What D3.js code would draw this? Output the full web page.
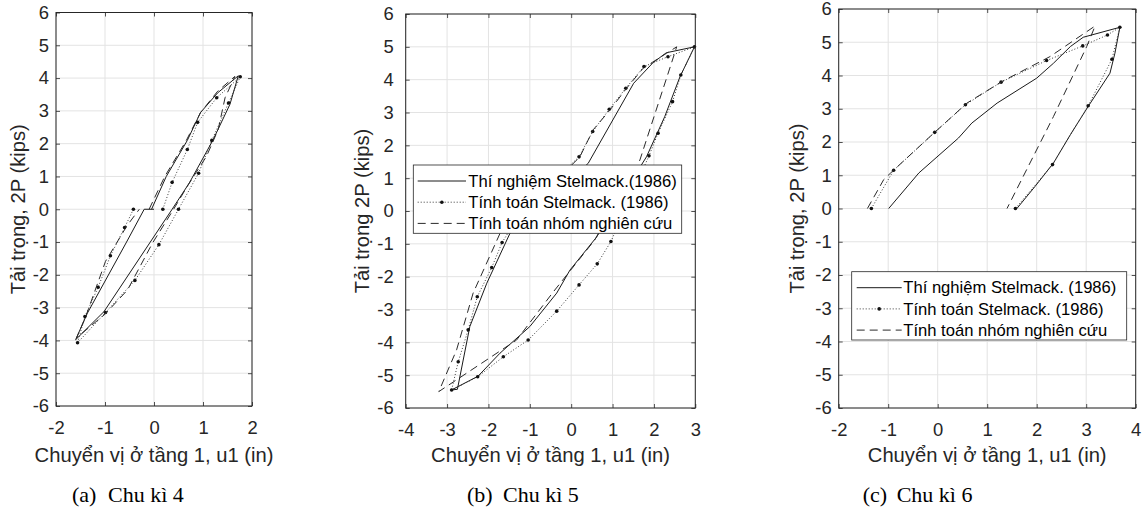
<!DOCTYPE html>
<html>
<head>
<meta charset="utf-8">
<script src="https://cdn.jsdelivr.net/npm/d3@7"></script>
<style>
  body { margin: 0; background: #fff; }
  svg { display: block; }
</style>
</head>
<body>
<div id="chart"></div>
<script>
let w = 1145;
let h = 511;

// ---- data ----
let yTicks = [-6, -5, -4, -3, -2, -1, 0, 1, 2, 3, 4, 5, 6];
let xTicksA = [-2, -1, 0, 1, 2];
let xTicksB = [-4, -3, -2, -1, 0, 1, 2, 3];
let xTicksC = [-2, -1, 0, 1, 2, 3, 4];

let legendB = ["Thí nghiệm Stelmack.(1986)", "Tính toán Stelmack. (1986)", "Tính toán nhóm nghiên cứu"];
let legendC = ["Thí nghiệm Stelmack. (1986)", "Tính toán Stelmack. (1986)", "Tính toán nhóm nghiên cứu"];

let captions = [["(a)", "Chu kì 4"], ["(b)", "Chu kì 5"], ["(c)", "Chu kì 6"]];

// cycle 4
let testA = [[-0.05, 0], [0.25, 1.0], [0.68, 2.1], [0.95, 2.95], [1.3, 3.55], [1.72, 4.07], [1.55, 3.2], [1.2, 2.1],
  [0.72, 0.8], [0.37, 0], [-1.02, -3.12], [-1.6, -3.98], [-1.36, -3.17], [-0.56, -1.0], [-0.2, 0], [0, 0]];
let stelA = [[0.18, 0], [0.37, 0.82], [0.68, 1.82], [0.89, 2.65], [1.28, 3.4], [1.76, 4.04], [1.52, 3.24], [1.18, 2.1],
  [0.91, 1.1], [0.5, 0], [0.1, -1.08], [-0.39, -2.17], [-0.99, -3.15], [-1.56, -4.07], [-1.41, -3.27], [-1.14, -2.38],
  [-0.89, -1.42], [-0.6, -0.56], [-0.42, 0]];
let groupA = [[-0.1, 0], [0.22, 1.0], [0.66, 2.1], [0.95, 2.95], [1.3, 3.6], [1.65, 4.05], [1.45, 3.4], [1.31, 2.43],
  [1.07, 1.61], [0.7, 0.75], [0.4, 0], [-0.03, -1.03], [-0.54, -2.46], [-1.0, -3.2], [-1.58, -3.92], [-1.4, -3.3],
  [-0.99, -1.59], [-0.55, -0.5], [-0.3, 0]];

// cycle 5
let testB = [[-0.85, 0], [0.41, 1.45], [1.51, 3.89], [1.98, 4.52], [2.3, 4.82], [2.98, 5.0], [2.63, 4.09], [2.26, 2.87],
  [1.82, 1.65], [0.61, -0.8], [-0.03, -1.8], [-0.35, -2.5], [-1.0, -3.52], [-1.72, -4.33], [-2.25, -5.03], [-2.89, -5.45],
  [-2.75, -5.43], [-2.45, -3.52], [-2.04, -2.2], [-1.48, -0.68], [-0.85, 0]];
let stelB = [[-1.2, 0], [0.19, 1.65], [0.52, 2.42], [0.92, 3.1], [1.32, 3.74], [1.76, 4.4], [2.34, 4.7], [2.98, 5.0],
  [2.65, 4.14], [2.45, 3.33], [2.1, 2.37], [1.88, 1.68], [0.96, -0.93], [0.63, -1.61], [0.19, -2.25], [-0.35, -3.05],
  [-1.04, -3.93], [-1.64, -4.44], [-2.26, -5.05], [-2.89, -5.45], [-2.73, -4.59], [-2.49, -3.62], [-2.27, -2.61],
  [-1.92, -1.72], [-1.67, -0.96], [-1.2, 0]];
let groupB = [[-1.1, 0], [0.21, 1.65], [0.53, 2.47], [0.94, 3.08], [1.34, 3.74], [1.74, 4.35], [2.3, 4.8], [2.55, 5.0],
  [2.5, 4.8], [1.66, 1.55], [0.57, -0.88], [-0.43, -2.46], [-1.32, -3.93], [-2.78, -5.15], [-3.2, -5.5], [-2.77, -4.23],
  [-2.37, -2.5], [-1.72, -0.68], [-1.1, 0]];

// cycle 6
let testC = [[-0.99, 0], [-0.38, 1.07], [0.42, 2.12], [0.69, 2.57], [1.2, 3.17], [2.0, 3.92], [2.34, 4.37], [2.68, 4.87],
  [2.94, 5.15], [3.68, 5.45], [3.58, 4.67], [3.48, 4.07], [3.04, 3.07], [2.68, 2.22], [2.34, 1.37], [1.97, 0.67], [1.6, 0]];
let stelC = [[-1.34, 0], [-0.89, 1.15], [-0.06, 2.29], [0.56, 3.12], [1.28, 3.8], [2.2, 4.45], [2.93, 4.89], [3.43, 5.22],
  [3.68, 5.45], [3.52, 4.49], [3.04, 3.09], [2.32, 1.32], [1.57, 0]];
let groupC = [[-1.42, 0], [-1.09, 0.87], [-0.95, 1.07], [-0.15, 2.17], [0.59, 3.17], [1.3, 3.82], [2.27, 4.57],
  [3.18, 5.49], [3.01, 4.87], [2.34, 2.77], [1.4, 0]];

// ---- layout ----
let axisColor = "#262626";
let gridColor = "#e3e3e3";
let sansFont = "'Liberation Sans', Arial, Helvetica, sans-serif";
let serifFont = "'Liberation Serif', 'Times New Roman', serif";

let panels = [
  { left: 56, right: 252, top: 12.5, bottom: 406, xTicks: xTicksA, ylabel: "Tải trọng, 2P (kips)", ylabelX: 18, yPad: 7,
    test: testA, stel: stelA, group: groupA, caption: captions[0], capX: 72, capX2: 108, legend: null },
  { left: 405.7, right: 695.3, top: 14, bottom: 408, xTicks: xTicksB, ylabel: "Tải trọng 2P (kips)", ylabelX: 362, yPad: 12,
    test: testB, stel: stelB, group: groupB, caption: captions[1], capX: 467, capX2: 503,
    legend: { names: legendB, x: 413.3, y: 165, w: 268.4, h: 68.3, lineX: 4.4, lineW: 48.3, textX: 55 } },
  { left: 838.7, right: 1135.7, top: 9, bottom: 408, xTicks: xTicksC, ylabel: "Tải trọng, 2P (kips)", ylabelX: 797, yPad: 7,
    test: testC, stel: stelC, group: groupC, caption: captions[2], capX: 862.7, capX2: 896.7,
    legend: { names: legendC, x: 851.7, y: 271.7, w: 275, h: 68.3, lineX: 5, lineW: 45, textX: 51.6 } }
];

let viz = d3.select("#chart")
  .append("svg")
  .attr("width", w)
  .attr("height", h)
  .style("background-color", "white");

// MATLAB style labels: plain integers with a hyphen minus
let tickText = d => String(d);

function styleAxis(g) {
  g.select(".domain").remove();
  g.selectAll(".tick line").attr("stroke", axisColor).attr("stroke-width", 0.8);
  g.selectAll(".tick text")
    .attr("fill", axisColor)
    .style("font-family", sansFont)
    .style("font-size", "18.4px");
}

panels.forEach(p => {
  let xScale = d3.scaleLinear().domain(d3.extent(p.xTicks)).range([p.left, p.right]);
  let yScale = d3.scaleLinear().domain(d3.extent(yTicks)).range([p.bottom, p.top]);

  let g = viz.append("g");

  // grid
  g.selectAll(".vgrid").data(p.xTicks).enter()
    .append("line")
    .attr("x1", d => xScale(d)).attr("x2", d => xScale(d))
    .attr("y1", p.top).attr("y2", p.bottom)
    .attr("stroke", gridColor).attr("stroke-width", 1);
  g.selectAll(".hgrid").data(yTicks).enter()
    .append("line")
    .attr("x1", p.left).attr("x2", p.right)
    .attr("y1", d => yScale(d)).attr("y2", d => yScale(d))
    .attr("stroke", gridColor).attr("stroke-width", 1);

  // curves
  let line = d3.line().x(d => xScale(d[0])).y(d => yScale(d[1]));

  g.append("path").datum(p.test)
    .attr("d", line)
    .attr("fill", "none")
    .attr("stroke", "#1a1a1a")
    .attr("stroke-width", 1);

  g.append("path").datum(p.stel)
    .attr("d", line)
    .attr("fill", "none")
    .attr("stroke", "#3a3a3a")
    .attr("stroke-width", 1)
    .attr("stroke-dasharray", "1,2");

  g.selectAll(".stelpoint").data(p.stel).enter()
    .append("circle")
    .attr("cx", d => xScale(d[0]))
    .attr("cy", d => yScale(d[1]))
    .attr("r", 1.8)
    .attr("fill", "#111");

  g.append("path").datum(p.group)
    .attr("d", line)
    .attr("fill", "none")
    .attr("stroke", "#2a2a2a")
    .attr("stroke-width", 1)
    .attr("stroke-dasharray", "8,5");

  // axes, ticks point inwards
  g.append("g")
    .attr("transform", `translate(0,${p.bottom})`)
    .call(d3.axisBottom(xScale).tickValues(p.xTicks).tickFormat(tickText).tickSizeInner(-4).tickSizeOuter(0).tickPadding(15))
    .call(styleAxis);
  g.append("g")
    .attr("transform", `translate(0,${p.top})`)
    .call(d3.axisTop(xScale).tickValues(p.xTicks).tickSizeInner(-4).tickSizeOuter(0).tickFormat(""))
    .call(styleAxis);
  g.append("g")
    .attr("transform", `translate(${p.left},0)`)
    .call(d3.axisLeft(yScale).tickValues(yTicks).tickFormat(tickText).tickSizeInner(-4).tickSizeOuter(0).tickPadding(p.yPad))
    .call(styleAxis);
  g.append("g")
    .attr("transform", `translate(${p.right},0)`)
    .call(d3.axisRight(yScale).tickValues(yTicks).tickSizeInner(-4).tickSizeOuter(0).tickFormat(""))
    .call(styleAxis);

  g.append("rect")
    .attr("x", p.left).attr("y", p.top)
    .attr("width", p.right - p.left).attr("height", p.bottom - p.top)
    .attr("fill", "none")
    .attr("stroke", axisColor)
    .attr("stroke-width", 1);

  // labels
  g.append("text")
    .attr("x", (p.left + p.right) / 2)
    .attr("y", 462)
    .attr("text-anchor", "middle")
    .attr("fill", axisColor)
    .style("font-family", sansFont)
    .style("font-size", "20.2px")
    .text("Chuyển vị ở tầng 1, u1 (in)");

  g.append("text")
    .attr("transform", `translate(${p.ylabelX},${(p.top + p.bottom) / 2}) rotate(-90)`)
    .attr("dy", "0.35em")
    .attr("text-anchor", "middle")
    .attr("fill", axisColor)
    .style("font-family", sansFont)
    .style("font-size", "20.2px")
    .text(p.ylabel);

  // caption under the panel
  g.append("text")
    .attr("x", p.capX).attr("y", 502)
    .attr("fill", "#000")
    .style("font-family", serifFont)
    .style("font-size", "22px")
    .text(p.caption[0]);
  g.append("text")
    .attr("x", p.capX2).attr("y", 502)
    .attr("fill", "#000")
    .style("font-family", serifFont)
    .style("font-size", "22px")
    .text(p.caption[1]);

  // legend
  if (p.legend) {
    let L = p.legend;
    let lg = g.append("g").attr("transform", `translate(${L.x},${L.y})`);
    lg.append("rect")
      .attr("width", L.w).attr("height", L.h)
      .attr("fill", "white")
      .attr("stroke", axisColor)
      .attr("stroke-width", 0.8);
    let styles = [
      { dash: null, dot: false, color: "#1a1a1a" },
      { dash: "1,2", dot: true, color: "#3a3a3a" },
      { dash: "8,5", dot: false, color: "#2a2a2a" }
    ];
    L.names.forEach((name, i) => {
      let cy = 16 + i * 21.2;
      lg.append("line")
        .attr("x1", L.lineX).attr("x2", L.lineX + L.lineW)
        .attr("y1", cy).attr("y2", cy)
        .attr("stroke", styles[i].color)
        .attr("stroke-width", 1)
        .attr("stroke-dasharray", styles[i].dash);
      if (styles[i].dot) {
        lg.append("circle")
          .attr("cx", L.lineX + L.lineW / 2).attr("cy", cy)
          .attr("r", 1.8).attr("fill", "#111");
      }
      lg.append("text")
        .attr("x", L.textX).attr("y", cy)
        .attr("dy", "0.35em")
        .attr("fill", "#000")
        .style("font-family", sansFont)
        .style("font-size", "16.6px")
        .text(name);
    });
  }
});
</script>
</body>
</html>
